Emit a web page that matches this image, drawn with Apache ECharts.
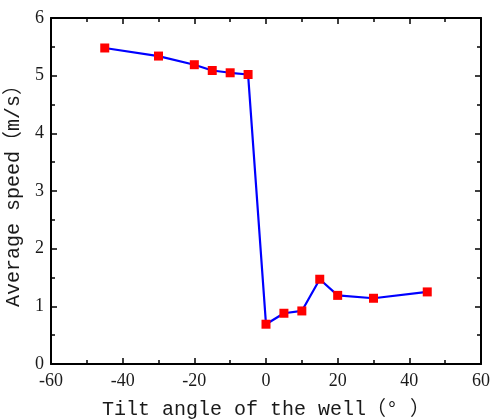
<!DOCTYPE html>
<html>
<head>
<meta charset="utf-8">
<script src="https://cdn.jsdelivr.net/npm/echarts@6/dist/echarts.min.js"></script>
<style>
  html, body { margin: 0; padding: 0; background: #fff; }
  #chart { width: 490px; height: 420px; }
</style>
</head>
<body>
<div id="chart"></div>
<script>
// Tilt angle of the well (degrees) and the measured average speed (m/s)
const tiltAngles = [-45, -30, -20, -15, -10, -5, 0, 5, 10, 15, 20, 30, 45];
const avgSpeeds  = [5.48, 5.34, 5.19, 5.09, 5.05, 5.02, 0.69, 0.88, 0.92, 1.47, 1.19, 1.14, 1.25];

const xTicks = { min: -60, max: 60, interval: 20 };
const yTicks = { min: 0, max: 6, interval: 1 };

const points = tiltAngles.map((a, i) => [a, avgSpeeds[i]]);

const labelFont = { fontFamily: '"Liberation Serif", "Times New Roman", serif', fontSize: 18, color: '#1a1a1a' };
const titleFont = { fontFamily: '"Liberation Mono", "Noto Sans CJK SC", monospace', fontSize: 20, color: '#1a1a1a' };

const axisLine = { show: true, onZero: false, lineStyle: { color: '#000', width: 2 } };
const tickStyle = { show: true, inside: true, length: 6, lineStyle: { color: '#000', width: 1.5 } };
const minorStyle = { show: true, splitNumber: 2, length: 4, lineStyle: { color: '#000', width: 1.5 } };

const chart = echarts.init(document.getElementById('chart'), null, { renderer: 'canvas' });
chart.setOption({
  backgroundColor: '#fff',
  animation: false,
  grid: { left: 51, right: 9, top: 18, bottom: 56, containLabel: false, outerBoundsMode: 'none' },
  xAxis: [
    {
      type: 'value', position: 'bottom', min: xTicks.min, max: xTicks.max, interval: xTicks.interval,
      name: 'Tilt angle of the well（° ）', nameLocation: 'middle', nameGap: 36,
      nameTextStyle: titleFont,
      axisLine: axisLine, axisTick: tickStyle, minorTick: minorStyle,
      axisLabel: Object.assign({ margin: 8 }, labelFont),
      splitLine: { show: false }
    },
    {
      type: 'value', position: 'top', min: xTicks.min, max: xTicks.max, interval: xTicks.interval,
      axisLine: axisLine, axisTick: tickStyle, minorTick: minorStyle,
      axisLabel: { show: false }, splitLine: { show: false }
    }
  ],
  yAxis: [
    {
      type: 'value', position: 'left', min: yTicks.min, max: yTicks.max, interval: yTicks.interval,
      name: 'Average speed（m/s）', nameLocation: 'middle', nameGap: 23,
      nameTextStyle: titleFont,
      axisLine: axisLine, axisTick: tickStyle, minorTick: minorStyle,
      axisLabel: Object.assign({ margin: 7 }, labelFont),
      splitLine: { show: false }
    },
    {
      type: 'value', position: 'right', min: yTicks.min, max: yTicks.max, interval: yTicks.interval,
      axisLine: axisLine, axisTick: tickStyle, minorTick: minorStyle,
      axisLabel: { show: false }, splitLine: { show: false }
    }
  ],
  series: [{
    type: 'line',
    data: points,
    xAxisIndex: 0, yAxisIndex: 0,
    symbol: 'rect', symbolSize: 9,
    itemStyle: { color: '#ff0000' },
    lineStyle: { color: '#0000ff', width: 2.2 },
    z: 3
  }]
});
</script>
</body>
</html>
